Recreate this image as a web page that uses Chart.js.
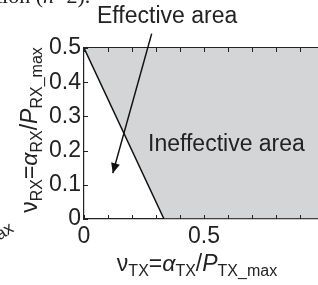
<!DOCTYPE html>
<html>
<head>
<meta charset="utf-8">
<script src="https://cdn.jsdelivr.net/npm/chart.js@4"></script>
<style>
  html, body { margin: 0; padding: 0; background: #fff; overflow: hidden; }
  #page { position: relative; width: 318px; height: 285px; overflow: hidden; }
  #wrap { position: absolute; left: 0; top: 0; width: 340px; height: 285px; }
  .lbl { position: absolute; white-space: nowrap; color: #222;
         font-family: "Liberation Sans", Arial, sans-serif; }
  .lbl sub { font-size: 16px; vertical-align: -5px; line-height: 0; }
  .ttl { font-size: 23px; line-height: 23px; }
</style>
</head>
<body>
<div id="page">
  <div id="wrap"><canvas id="regionChart"></canvas></div>
  <div class="lbl" style="left:-4px;top:-15px;font-family:'Liberation Serif',serif;font-size:22px;line-height:22px;">tion (<i>n</i>=2).</div>
  <div class="lbl" style="left:97px;top:4px;font-size:23px;line-height:23px;">Effective area</div>
  <div class="lbl" style="left:148px;top:132px;font-size:23px;line-height:23px;">Ineffective area</div>
  <div class="lbl ttl" style="left:197px;top:252px;transform:translateX(-50%);">ν<sub>TX</sub>=<i>α</i><sub>TX</sub>/<i>P</i><sub>TX_max</sub></div>
  <div class="lbl ttl" style="left:29px;top:130px;transform:translate(-50%,-50%) rotate(-90deg);">ν<sub>RX</sub>=<i>α</i><sub>RX</sub>/<i>P</i><sub>RX_max</sub></div>
  <div class="lbl" style="left:1px;top:226px;font-size:17px;line-height:17px;transform:rotate(-32deg);transform-origin:0 100%;">ax</div>
</div>
<script>
// boundary between the two areas (gray is filled above it)
const boundaryX = [0, 1 / 3, 1];
const boundaryY = [0.5, 0, 0];

// arrow pointing into the effective area
const arrowX = [0.282, 0.12];
const arrowY = [0.542, 0.134];

// x tick labels that are printed
const xLabels = [0, 0.5];

const tickFont = { family: "'Liberation Sans', Arial, sans-serif", size: 23 };

// inward tick marks (matlab style) and the arrow head
const innerTicks = {
    id: 'innerTicks',
    afterDraw(chart) {
        const ctx = chart.ctx;
        const area = chart.chartArea;
        const x = chart.scales.x, y = chart.scales.y;
        ctx.save();
        ctx.strokeStyle = '#222';
        ctx.lineWidth = 1;
        ctx.beginPath();
        x.ticks.forEach(t => {
            const px = Math.round(x.getPixelForValue(t.value)) + 0.5;
            ctx.moveTo(px, area.bottom); ctx.lineTo(px, area.bottom - 4);
            ctx.moveTo(px, area.top); ctx.lineTo(px, area.top + 4);
        });
        y.ticks.forEach(t => {
            const py = Math.round(y.getPixelForValue(t.value)) + 0.5;
            ctx.moveTo(area.left, py); ctx.lineTo(area.left + 4, py);
            ctx.moveTo(area.right, py); ctx.lineTo(area.right - 4, py);
        });
        ctx.stroke();

        // arrow head at the end of the arrow dataset
        const pts = chart.getDatasetMeta(1).data;
        const a = pts[0], b = pts[1];
        const ang = Math.atan2(b.y - a.y, b.x - a.x);
        const len = 10, half = 4.5;
        ctx.fillStyle = '#111';
        ctx.beginPath();
        ctx.moveTo(b.x, b.y);
        ctx.lineTo(b.x - len * Math.cos(ang) + half * Math.sin(ang), b.y - len * Math.sin(ang) - half * Math.cos(ang));
        ctx.lineTo(b.x - len * Math.cos(ang) - half * Math.sin(ang), b.y - len * Math.sin(ang) + half * Math.cos(ang));
        ctx.closePath();
        ctx.fill();
        ctx.restore();
    }
};

const ctx = document.getElementById('regionChart').getContext('2d');
const regionChart = new Chart(ctx, {
    type: 'line',
    data: {
        datasets: [
            {
                data: boundaryX.map((v, i) => ({ x: v, y: boundaryY[i] })),
                borderColor: '#111',
                borderWidth: 1.5,
                backgroundColor: '#d4d5d7',
                fill: 'end',
                pointRadius: 0,
                tension: 0,
                order: 2
            },
            {
                data: arrowX.map((v, i) => ({ x: v, y: arrowY[i] })),
                borderColor: '#111',
                borderWidth: 1.5,
                fill: false,
                pointRadius: 0,
                clip: false,
                order: 1
            }
        ]
    },
    options: {
        responsive: true,
        maintainAspectRatio: false,
        animation: false,
        layout: { padding: { left: 0, right: 16, top: 0, bottom: 0 } },
        plugins: { legend: { display: false }, tooltip: { enabled: false } },
        scales: {
            x: {
                type: 'linear',
                min: 0, max: 1,
                z: 1,
                grid: { drawOnChartArea: false, drawTicks: false },
                border: { color: '#222', width: 1.2 },
                ticks: {
                    stepSize: 0.1,
                    padding: 4,
                    maxRotation: 0,
                    autoSkip: false,
                    color: '#222',
                    font: tickFont,
                    callback: v => xLabels.some(l => Math.abs(l - v) < 1e-6) ? String(+v.toFixed(1)) : ''
                },
                afterFit: s => { s.height = 66; }
            },
            x2: {
                type: 'linear',
                position: 'top',
                min: 0, max: 1,
                z: 1,
                grid: { drawOnChartArea: false, drawTicks: false },
                border: { color: '#222', width: 1.2 },
                ticks: { display: false },
                afterFit: s => { s.height = 48; }
            },
            y: {
                type: 'linear',
                min: 0, max: 0.5,
                z: 1,
                grid: { drawOnChartArea: false, drawTicks: false },
                border: { color: '#222', width: 1.2 },
                ticks: {
                    stepSize: 0.1,
                    padding: 3,
                    color: '#222',
                    font: tickFont,
                    callback: v => String(+v.toFixed(1))
                },
                afterFit: s => { s.width = 84; }
            }
        }
    },
    plugins: [innerTicks]
});
</script>
</body>
</html>
